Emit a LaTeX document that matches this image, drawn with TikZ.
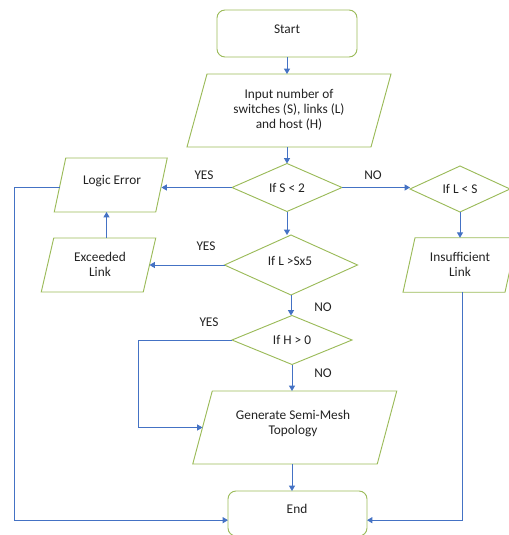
\documentclass[tikz,border=0pt]{standalone}
\usepackage{fontspec}
\setmainfont{Carlito}
\usetikzlibrary{shapes.geometric,arrows.meta}
\definecolor{boxgreen}{RGB}{155,187,89}
\definecolor{flowblue}{RGB}{68,114,196}
\definecolor{txt}{RGB}{34,34,34}
\tikzset{
  % one unit = one pixel of a 508 x 535 canvas
  x=0.75pt, y=-0.75pt,
  every node/.style={font=\fontsize{10pt}{11.25pt}\selectfont, text=txt, align=center},
  sz/.style 2 args={minimum width=#1*0.75pt, minimum height=#2*0.75pt},
  shp/.style={draw=boxgreen, line width=0.7pt, inner sep=0pt, outer sep=0pt},
  termbox/.style={shp, rectangle, rounded corners=6pt},
  decision/.style={shp, diamond},
  flow/.style={draw=flowblue, line width=0.7pt,
    -{Triangle[width=4.5pt,length=4pt]}},
  lbl/.style={font=\fontsize{10pt}{11pt}\selectfont}
}
% input/output box: name, centre x, centre y, body width, height, slant (px)
\newcommand\iobox[6]{%
  \node[shp, draw=none, rectangle, sz={#4}{#5}] (#1) at (#2,#3) {};
  \draw[shp] ([xshift=-#6*0.375pt]#1.south west)
    -- ([xshift=-#6*0.375pt]#1.south east)
    -- ([xshift=#6*0.375pt]#1.north east)
    -- ([xshift=#6*0.375pt]#1.north west) -- cycle;
}
\begin{document}
\begin{tikzpicture}
\useasboundingbox (0,0) rectangle (508,535);

% shapes
\node[termbox, sz={140}{47}] (start) at (287,33.5) {};
\node at (287,29) {Start};

\iobox{input}{289}{110.5}{184}{73}{20}
\node at (289,110) {Input number of\\switches (S), links (L)\\and host (H)};

\node[decision, sz={110}{48}] (s2) at (287,187.5) {If S < 2};
\node[decision, sz={100}{46}] (ls) at (460,189) {If L < S};

\iobox{logic}{110.75}{185}{101.5}{54}{11.5}
\node at (112,181) {Logic Error};

\node[decision, sz={133}{60}] (l5) at (291,265) {};
\node at (290,261) {If L >Sx5};

\iobox{exc}{98.5}{265}{102}{54}{12.5}
\node at (100,264.5) {Exceeded\\Link};
\iobox{ins}{460}{265}{102}{54.5}{12}
\node at (460,264.5) {Insufficient\\Link};

\node[decision, sz={120}{49}] (h0) at (292,340) {If H > 0};

\iobox{gen}{294.75}{427.5}{184.5}{73}{19.5}
\node at (293,423.5) {Generate Semi-Mesh\\Topology};

\node[termbox, sz={139}{45}] (end) at (297.5,513.5) {};
\node at (297,509) {End};

% connectors
\draw[flow] (start.south) -- (start.south |- input.north);
\draw[flow] (input.south -| s2.north) -- (s2.north);
\draw[flow] (s2.west) -- (s2.west -| logic.east);
\draw[flow] (s2.east) -- (s2.east -| ls.west);
\draw[flow] (s2.south) -- (s2.south |- l5.north);
\draw[flow] (ls.south) -- (ls.south |- ins.north);
\draw[flow] (l5.west) -- (l5.west -| exc.east);
\draw[flow] ([xshift=6pt]exc.north) -- ([xshift=6pt]exc.north |- logic.south);
\draw[flow] (l5.south) -- (l5.south |- h0.north);
\draw[flow] (h0.south) -- (h0.south |- gen.north);
\draw[flow] (h0.west) -- ++(-94,0) |- (gen.west);
\draw[flow] (h0.south |- gen.south) -- (h0.south |- end.north);
\draw[flow] ([yshift=-2pt]logic.west) -- ++(-46,0) |- ([yshift=-5pt]end.west);
\draw[flow] ([xshift=2pt]ins.south) |- ([yshift=-5pt]end.east);

% branch labels
\node[lbl] at (204,175) {YES};
\node[lbl] at (373,175) {NO};
\node[lbl] at (206,246) {YES};
\node[lbl] at (323,307) {NO};
\node[lbl] at (209,322) {YES};
\node[lbl] at (323,373) {NO};
\end{tikzpicture}
\end{document}
